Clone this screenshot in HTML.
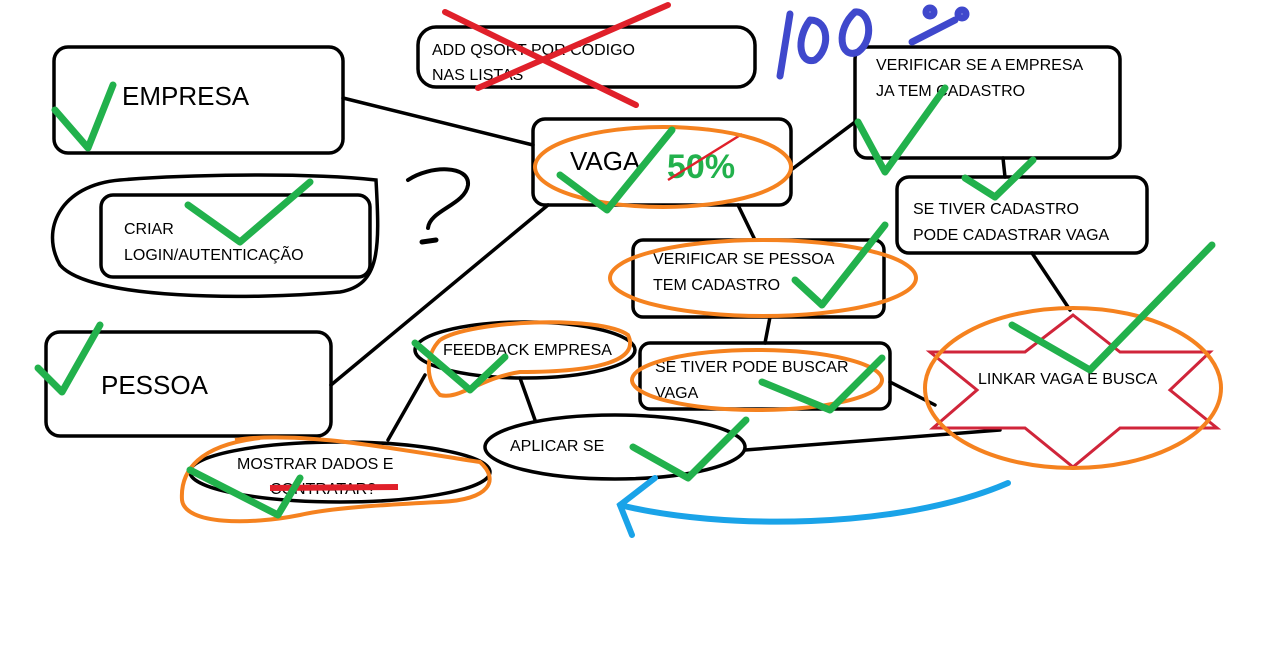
<!DOCTYPE html>
<html><head><meta charset="utf-8"><style>
html,body{margin:0;padding:0;background:#fff;}
svg{display:block;}
text{font-family:"Liberation Sans",sans-serif;fill:#000;}
</style></head><body>
<svg width="1274" height="662" viewBox="0 0 1274 662" xmlns="http://www.w3.org/2000/svg">
<g stroke="#000" stroke-width="3.5" fill="none" stroke-linecap="round">
<line x1="343" y1="98" x2="533" y2="145"/>
<line x1="791" y1="170" x2="855" y2="122"/>
<line x1="1003" y1="158" x2="1005" y2="177"/>
<line x1="1032" y1="253" x2="1070" y2="310"/>
<line x1="738" y1="205" x2="755" y2="240"/>
<line x1="548" y1="205" x2="331" y2="385"/>
<line x1="770" y1="317" x2="765" y2="343"/>
<line x1="890" y1="382" x2="935" y2="405"/>
<line x1="745" y1="450" x2="1000" y2="430"/>
<line x1="520" y1="378" x2="535" y2="420"/>
<line x1="425" y1="375" x2="388" y2="440"/>
<rect x="54" y="47" width="289" height="106" rx="14"/>
<rect x="418" y="27" width="337" height="60" rx="18"/>
<rect x="855" y="47" width="265" height="111" rx="12"/>
<rect x="533" y="119" width="258" height="86" rx="12"/>
<rect x="101" y="195" width="269" height="82" rx="12"/>
<rect x="897" y="177" width="250" height="76" rx="12"/>
<rect x="633" y="240" width="251" height="77" rx="10"/>
<rect x="46" y="332" width="285" height="104" rx="14"/>
<rect x="640" y="343" width="250" height="66" rx="10"/>
<ellipse cx="525" cy="350" rx="110" ry="28"/>
<ellipse cx="615" cy="447" rx="130" ry="32"/>
<ellipse cx="340" cy="472" rx="150" ry="30"/>
<path d="M120,180 C60,185 40,230 60,265 C90,300 250,300 340,292 C380,285 380,250 376,180 C300,172 180,175 120,180 Z"/>
<path d="M408,180 C430,165 470,165 468,185 C465,205 430,210 428,228" stroke-width="4"/>
<path d="M422,242 L436,240" stroke-width="5"/>
</g>
<polygon points="1073,315 1120,352 1210,352 1170,390 1217,428 1120,428 1073,467 1025,428 933,428 977,390 930,352 1025,352" fill="none" stroke="#d0253a" stroke-width="3"/>
<text x="122" y="105" font-size="26">EMPRESA</text>
<text x="432" y="55" font-size="16">ADD QSORT POR CODIGO</text>
<text x="432" y="80" font-size="16">NAS LISTAS</text>
<text x="876" y="70" font-size="16">VERIFICAR SE A EMPRESA</text>
<text x="876" y="96" font-size="16">JA TEM CADASTRO</text>
<text x="570" y="170" font-size="26">VAGA</text>
<text x="667" y="178" font-size="34" font-weight="bold" style="fill:#22b14c">50%</text>
<line x1="668" y1="180" x2="742" y2="134" stroke="#e0202a" stroke-width="2.5"/>
<text x="124" y="234" font-size="16">CRIAR</text>
<text x="124" y="260" font-size="16">LOGIN/AUTENTICAÇÃO</text>
<text x="913" y="214" font-size="16">SE TIVER CADASTRO</text>
<text x="913" y="240" font-size="16">PODE CADASTRAR VAGA</text>
<text x="653" y="264" font-size="16">VERIFICAR SE PESSOA</text>
<text x="653" y="290" font-size="16">TEM CADASTRO</text>
<text x="101" y="394" font-size="26">PESSOA</text>
<text x="443" y="355" font-size="16">FEEDBACK EMPRESA</text>
<text x="655" y="372" font-size="16">SE TIVER PODE BUSCAR</text>
<text x="655" y="398" font-size="16">VAGA</text>
<text x="510" y="451" font-size="16">APLICAR SE</text>
<text x="237" y="469" font-size="16">MOSTRAR DADOS E</text>
<text x="270" y="494" font-size="16">CONTRATAR?</text>
<line x1="270" y1="488" x2="398" y2="487" stroke="#e0202a" stroke-width="6"/>
<text x="978" y="384" font-size="16">LINKAR VAGA E BUSCA</text>
<g stroke="#e0202a" stroke-width="6" stroke-linecap="round">
<line x1="445" y1="12" x2="636" y2="105"/>
<line x1="478" y1="88" x2="668" y2="5"/>
</g>
<g stroke="#f5821f" stroke-width="4" fill="none">
<ellipse cx="663" cy="167" rx="128" ry="40"/>
<ellipse cx="763" cy="278" rx="153" ry="38"/>
<ellipse cx="757" cy="380" rx="125" ry="30"/>
<ellipse cx="1073" cy="388" rx="148" ry="80"/>
<path d="M440,340 C470,320 600,315 628,335 C640,360 600,372 520,372 C480,378 460,400 440,395 C425,380 425,355 440,340"/>
<path d="M235,440 C300,430 400,450 480,462 C500,480 490,500 440,502 C380,505 330,508 300,515 C250,525 185,525 182,500 C180,470 200,445 260,438"/>
</g>
<g stroke="#22b14c" stroke-width="7" fill="none" stroke-linecap="round" stroke-linejoin="round">
<polyline points="55,110 88,148 113,85"/>
<polyline points="188,205 240,242 310,182"/>
<polyline points="38,368 62,392 100,325"/>
<polyline points="560,175 607,210 672,130"/>
<polyline points="858,122 885,172 945,88"/>
<polyline points="965,178 995,197 1033,160"/>
<polyline points="795,280 822,305 885,225"/>
<polyline points="1012,325 1090,370 1212,245"/>
<polyline points="762,382 830,410 882,358"/>
<polyline points="415,343 470,390 505,357"/>
<polyline points="633,447 688,478 746,420"/>
<polyline points="190,470 278,515 300,478"/>
</g>
<g stroke="#1aa3e8" stroke-width="6" fill="none" stroke-linecap="round">
<path d="M1008,483 C900,530 720,530 620,505"/>
<polyline points="655,478 620,505 632,535"/>
</g>
<g stroke="#3f48cc" stroke-width="7" fill="none" stroke-linecap="round">
<line x1="790" y1="14" x2="780" y2="76"/>
<path d="M810,20 C795,40 800,65 815,60 C830,50 830,20 810,20"/>
<path d="M855,12 C835,30 840,60 858,52 C875,40 870,10 855,12"/>
<line x1="912" y1="42" x2="955" y2="20"/>
<circle cx="930" cy="12" r="4"/>
<circle cx="962" cy="14" r="4"/>
</g>
</svg>
</body></html>
